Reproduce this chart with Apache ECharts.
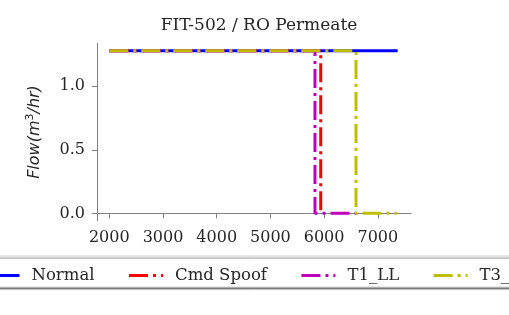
<!DOCTYPE html>
<html>
<head>
<meta charset="utf-8">
<script src="https://cdn.jsdelivr.net/npm/echarts@6/dist/echarts.min.js"></script>
<style>
  html, body { margin: 0; padding: 0; background: #fff; }
  #chart { width: 509px; height: 315px; }
</style>
</head>
<body>
<div id="chart"></div>
<script>
// series data (time index, flow m3/hr)
const names = ['Normal', 'Cmd Spoof', 'T1_LL', 'T3_HH'];
const colors = ['#0000ff', '#ff0000', '#bf00bf', '#bfbf00'];
const normal = [[2000, 1.28], [7370, 1.28]];
const cmdSpoof = [[2000, 1.28], [5937, 1.28], [5937, 0], [5960, 0]];
const t1LL = [[2000, 1.28], [5830, 1.28], [5830, 0], [6594, 0]];
const t3 = [[2000, 1.28], [6594, 1.28], [6594, 0], [7350, 0]];
const xTicks = [2000, 3000, 4000, 5000, 6000, 7000];
const yTicks = [0, 0.5, 1.0];

const serif = '"DejaVu Serif", serif';
const dashDot = [19, 5, 3, 5];

const chart = echarts.init(document.getElementById('chart'));

function mkSeries(i, data, dashed) {
  return {
    name: names[i],
    type: 'line',
    data: data,
    showSymbol: false,
    symbol: 'none',
    animation: false,
    lineStyle: { color: colors[i], width: 3, type: dashed ? dashDot : 'solid' },
    itemStyle: { color: colors[i] }
  };
}

chart.setOption({
  animation: false,
  title: {
    text: 'FIT-502 / RO Permeate',
    left: 254, top: 12, textAlign: 'center',
    textStyle: { fontFamily: serif, fontWeight: 'normal', fontSize: 17, color: '#262626' }
  },
  graphic: [{
    type: 'rect', z: -1,
    shape: { x: -10, y: 256, width: 540, height: 31, r: 3 },
    style: { fill: '#fff', stroke: '#d0d0d0', lineWidth: 1,
      shadowColor: 'rgba(0,0,0,0.45)', shadowBlur: 1, shadowOffsetY: 2 }
  }],
  legend: {
    data: names,
    left: -21, top: 262, width: 640,
    itemWidth: 34, itemHeight: 14, itemGap: 33,
    itemStyle: { opacity: 0 },
    lineStyle: { width: 3 },
    textStyle: { fontFamily: serif, fontSize: 16.5, color: '#262626', padding: [0, 0, 0, 7] }
  },
  grid: { left: 97, right: 98, top: 43, bottom: 94 },
  xAxis: {
    type: 'value', min: 1771, max: 7618,
    splitLine: { show: false },
    axisLine: { lineStyle: { color: '#808080', width: 1 } },
    axisTick: { customValues: xTicks, length: 5, lineStyle: { color: '#808080' } },
    axisLabel: { customValues: xTicks, margin: 9, fontFamily: serif, fontSize: 16, color: '#262626',
      formatter: v => String(v) }
  },
  yAxis: {
    type: 'value', min: -0.06, max: 1.34,
    name: '{i|Flow(m}{s|3}{i|/hr)}',
    nameLocation: 'middle', nameGap: 53, nameRotate: 90,
    nameTextStyle: {
      rich: {
        i: { fontFamily: '"DejaVu Sans", sans-serif', fontStyle: 'italic', fontSize: 16, color: '#262626' },
        s: { fontFamily: '"DejaVu Sans", sans-serif', fontSize: 11, color: '#262626', padding: [0, 0, 8, 0] }
      }
    },
    splitLine: { show: false },
    axisLine: { show: true, lineStyle: { color: '#808080', width: 1 } },
    axisTick: { show: true, customValues: yTicks, length: 5, lineStyle: { color: '#808080' } },
    axisLabel: { customValues: yTicks, margin: 12, fontFamily: serif, fontSize: 16, color: '#262626',
      formatter: v => v.toFixed(1) }
  },
  series: [
    mkSeries(0, normal, false),
    mkSeries(1, cmdSpoof, true),
    mkSeries(2, t1LL, true),
    mkSeries(3, t3, true)
  ]
});
</script>
</body>
</html>
